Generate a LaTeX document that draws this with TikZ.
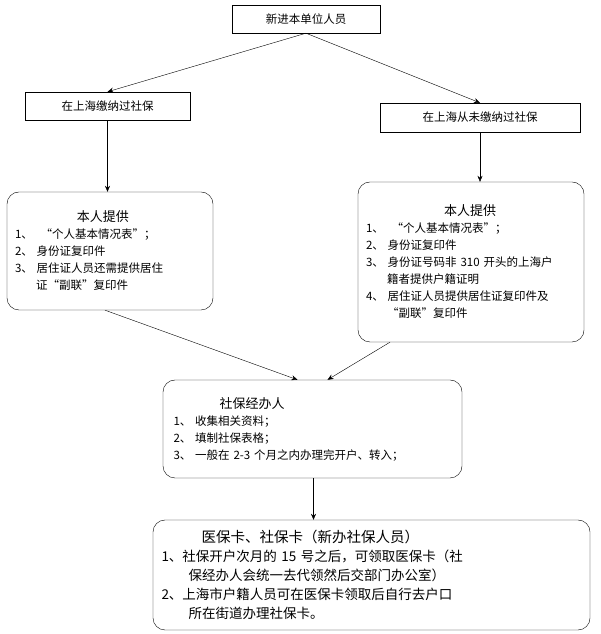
\documentclass[tikz,border=0pt]{standalone}
\usepackage{fontspec}
\setmainfont{Noto Sans CJK SC}
\usetikzlibrary{arrows.meta}
\begin{document}
\begin{tikzpicture}[x=1pt,y=1pt,
  every node/.style={font=\fontsize{11.5}{17}\selectfont},
  plainbox/.style={draw,minimum height=28pt,inner sep=2pt},
  listbox/.style={draw,rounded corners=12pt,align=left,inner sep=0pt},
  flow/.style={-{Stealth[length=6pt,width=5pt]},thin}]
\useasboundingbox (0,0) rectangle (601,634);
% Boxes
\node[plainbox,minimum width=148pt] (start) at (306,615) {新进本单位人员};
\node[plainbox,minimum width=165pt] (paid) at (107.5,528) {在上海缴纳过社保};
\node[plainbox,minimum width=200pt,minimum height=29pt] (never) at (480,516.5) {在上海从未缴纳过社保};
\node[listbox,minimum width=206pt,minimum height=118pt,text width=190pt] (paidlist) at (110,383)
  {\hspace*{62pt}{\fontsize{13}{17}\selectfont 本人提供}\\
   1、\ \ “个人基本情况表”；\\
   2、\ 身份证复印件\\
   3、\ 居住证人员还需提供居住\\
   \hspace*{21pt}证“副联”复印件};
\node[listbox,minimum width=226pt,minimum height=160pt,text width=210pt] (neverlist) at (471,372)
  {\hspace*{78pt}{\fontsize{13}{17}\selectfont 本人提供}\\
   1、\ \ “个人基本情况表”；\\
   2、\ 身份证复印件\\
   3、\ 身份证号码非 310 开头的上海户\\
   \hspace*{21pt}籍者提供户籍证明\\
   4、\ 居住证人员提供居住证复印件及\\
   \hspace*{21pt}“副联”复印件};
\node[listbox,minimum width=299pt,minimum height=98pt,text width=278pt] (agent) at (312.5,205)
  {\hspace*{46pt}{\fontsize{13}{17}\selectfont 社保经办人}\\
   1、\ 收集相关资料；\\
   2、\ 填制社保表格；\\
   3、\ 一般在 2-3 个月之内办理完开户、转入；};
\node[listbox,minimum width=437pt,minimum height=110pt,text width=420pt,
      font=\fontsize{13.5}{19}\selectfont] (cards) at (371.5,59)
  {\hspace*{40pt}{\fontsize{14.5}{19}\selectfont 医保卡、社保卡（新办社保人员）}\\
   1、社保开户次月的 15 号之后，可领取医保卡（社\\
   \hspace*{27pt}保经办人会统一去代领然后交部门办公室）\\
   2、上海市户籍人员可在医保卡领取后自行去户口\\
   \hspace*{27pt}所在街道办理社保卡。};
% Connectors
\draw[flow] (start.south) -- (paid.north);
\draw[flow] (start.south) -- (never.north);
\draw[flow] (paid.south) -- (paid.south |- paidlist.north);
\draw[flow] (never.south) -- (never.south |- neverlist.north);
\draw[flow] ([xshift=-5pt]paidlist.south) -- ([xshift=-15pt]agent.north);
\draw[flow] ([xshift=-81pt]neverlist.south) -- ([xshift=15pt]agent.north);
\draw[flow] ([xshift=1pt]agent.south) -- ([xshift=1pt]agent.south |- cards.north);
\end{tikzpicture}
\end{document}
